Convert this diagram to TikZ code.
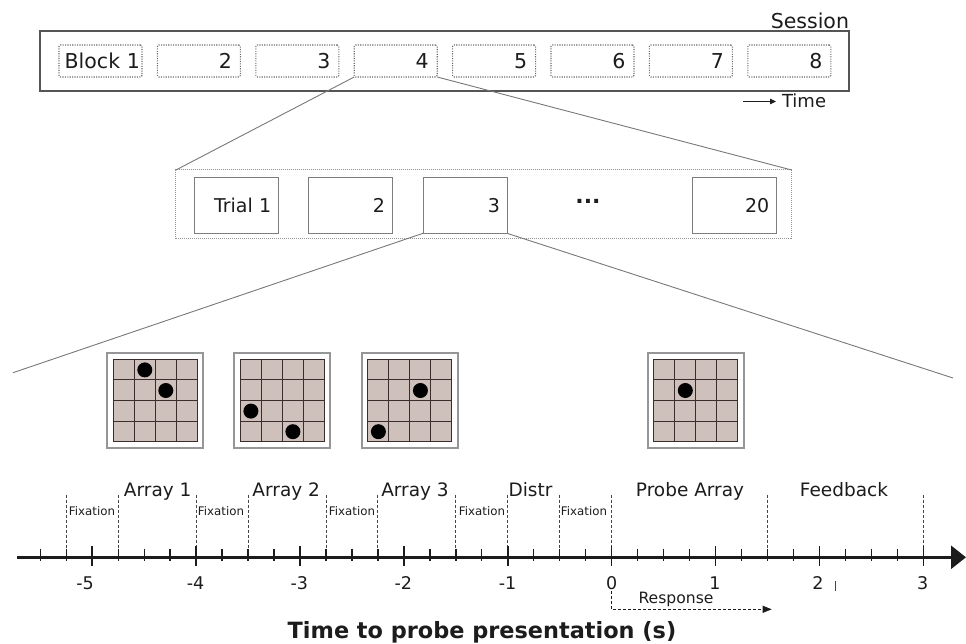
\documentclass[tikz,border=0pt]{standalone}
\usepackage{fontspec}
\setmainfont{DejaVu Sans}
\usetikzlibrary{arrows.meta}

\definecolor{inkc}{RGB}{28,28,28}
\definecolor{sessc}{RGB}{85,85,85}
\definecolor{blockc}{RGB}{105,105,105}
\definecolor{outerc}{RGB}{150,150,150}
\definecolor{trialc}{RGB}{125,125,125}
\definecolor{zoomc}{RGB}{120,120,120}
\definecolor{framec}{RGB}{150,150,150}
\definecolor{cellc}{RGB}{206,193,188}
\definecolor{gridc}{RGB}{60,45,45}
\definecolor{phasec}{RGB}{70,70,70}

\newcommand{\setfs}[1]{\fontsize{#1pt}{#1pt}\selectfont}

\tikzset{
  cells/.pic={
    \fill[cellc, rounded corners=1pt] (-42,-41.2) rectangle (42,41.2);
    \foreach \k in {0,...,4}{
      \draw[gridc, line width=1.1pt] (-42+21*\k,-41.2) -- (-42+21*\k,41.2);
      \draw[gridc, line width=1.1pt] (-42,-41.2+20.6*\k) -- (42,-41.2+20.6*\k);
    }
  }
}

\begin{document}
\begin{tikzpicture}[x=1pt, y=-1pt,
  every node/.style={inner sep=0pt, outer sep=0pt, text=inkc},
  blockbox/.style={draw=blockc, line width=1.1pt, dash pattern=on 1.1pt off 1.3pt,
    rounded corners=1.5pt, minimum width=83pt, minimum height=32pt,
    text width=66pt, inner xsep=8.5pt, align=right, font=\setfs{20.5}},
  trialbox/.style={draw=trialc, line width=1pt, minimum width=84pt, minimum height=56pt,
    text width=70pt, inner xsep=7pt, align=right, font=\setfs{19}},
  zoomline/.style={draw=zoomc, line width=0.9pt},
  arrframe/.style={draw=framec, line width=1.8pt, fill=white,
    minimum width=96pt, minimum height=94.4pt},
  stimdot/.style={fill=black},
  phase/.style={draw=phasec, line width=0.9pt, dash pattern=on 3pt off 2pt},
  phaselbl/.style={anchor=base, font=\setfs{18.5}},
  fixlbl/.style={anchor=base, font=\setfs{11.8}},
  numlbl/.style={anchor=base, font=\setfs{17.5}},
  minortick/.style={draw=inkc, line width=1.3pt},
  majortick/.style={draw=inkc, line width=1.5pt}
]
\useasboundingbox (0,0) rectangle (966,644);

% ---------- session with its eight blocks ----------
\node[draw=sessc, line width=1.6pt, minimum width=809pt, minimum height=60pt] (session) at (444.5,61) {};
\node[anchor=base east, font=\setfs{20.5}] (sesslbl) at (849,28.3) {Session};
\node[blockbox, text width=79pt, inner xsep=2pt] (b1) at (100.5,61) {Block 1};
\node[blockbox] (b2) at (198.9,61) {2};
\node[blockbox] (b3) at (297.3,61) {3};
\node[blockbox] (b4) at (395.7,61) {4};
\node[blockbox] (b5) at (494.1,61) {5};
\node[blockbox] (b6) at (592.5,61) {6};
\node[blockbox] (b7) at (690.9,61) {7};
\node[blockbox] (b8) at (789.3,61) {8};

\coordinate (tm0) at (743,101.5);
\node[anchor=base west, font=\setfs{18}] (timelbl) at (782,108) {Time};
\draw[inkc, line width=0.8pt, -{Triangle[length=6pt,width=5.5pt]}, shorten >=6pt] (tm0) -- (tm0 -| timelbl.west);

% ---------- trials of one block ----------
\node[draw=outerc, line width=1pt, dash pattern=on 1pt off 1pt, minimum width=615.7pt, minimum height=69pt] (trials) at (483.8,204.5) {};
\node[trialbox] (t1) at (236.3,205.3) {Trial 1};
\node[trialbox] (t2) at (350,205.3) {2};
\node[trialbox] (t3) at (465,205.3) {3};
\node[trialbox] (t20) at (734.3,205.3) {20};
\node[anchor=base, font=\bfseries\setfs{22}] (dots) at (588,204) {...};

\draw[zoomline] (b4.south west) -- (trials.north west);
\draw[zoomline] (b4.south east) -- (trials.north east);

\coordinate (zl) at (13,372.7);
\coordinate (zr) at (953,378);
\draw[zoomline] (t3.south west) -- (zl);
\draw[zoomline] (t3.south east) -- (zr);

% ---------- stimulus arrays ----------
\node[arrframe] (a1) at (155.3,400.5) {};
\node[arrframe] (a2) at (282.2,400.5) {};
\node[arrframe] (a3) at (409.7,400.5) {};
\node[arrframe] (a4) at (695.9,400.5) {};
\pic at (a1.center) {cells};
\pic at (a2.center) {cells};
\pic at (a3.center) {cells};
\pic at (a4.center) {cells};

\fill[stimdot] (144.8,369.9) circle[radius=7.5pt];
\fill[stimdot] (165.8,390.5) circle[radius=7.5pt];
\fill[stimdot] (250.9,411.1) circle[radius=7.5pt];
\fill[stimdot] (292.9,431.7) circle[radius=7.5pt];
\fill[stimdot] (420.4,390.5) circle[radius=7.5pt];
\fill[stimdot] (378.4,431.7) circle[radius=7.5pt];
\fill[stimdot] (685.3,390.5) circle[radius=7.5pt];

% ---------- time line ----------
\foreach \t in {-5.25,-4.75,-4,-3.5,-2.75,-2.25,-1.5,-1,-0.5,0,1.5,3}{
  \draw[phase] ({611.7+103.9*\t},494.5) -- ({611.7+103.9*\t},557);
}
\foreach \t in {-5.5,-5.25,...,3}{
  \draw[minortick] ({611.7+103.9*\t},548.5) -- ({611.7+103.9*\t},561);
}
\foreach \t in {-5,...,3}{
  \draw[majortick] ({611.7+103.9*\t},546) -- ({611.7+103.9*\t},566);
}
\coordinate (ax0) at (17.3,557.3);
\coordinate (ax1) at (966,557.3);
\draw[inkc, line width=2.6pt, -{Triangle[length=15pt,width=23pt]}] (ax0) -- (ax1);

\node[phaselbl] (ph1) at (157.7,496.5) {Array 1};
\node[phaselbl] (ph2) at (286.2,496.5) {Array 2};
\node[phaselbl] (ph3) at (415,496.5) {Array 3};
\node[phaselbl] (ph4) at (530.5,496.5) {Distr};
\node[phaselbl] (ph5) at (690,496.5) {Probe Array};
\node[phaselbl] (ph6) at (844,496.5) {Feedback};

\node[fixlbl] (fx1) at (92,515) {Fixation};
\node[fixlbl] (fx2) at (221,515) {Fixation};
\node[fixlbl] (fx3) at (352,515) {Fixation};
\node[fixlbl] (fx4) at (482,515) {Fixation};
\node[fixlbl] (fx5) at (584,515) {Fixation};

\node[numlbl] (n5) at (85,589.3) {-5};
\node[numlbl] (n4) at (195.5,589.3) {-4};
\node[numlbl] (n3) at (299.3,589.3) {-3};
\node[numlbl] (n2) at (403.3,589.3) {-2};
\node[numlbl] (n1) at (507.5,589.3) {-1};
\node[numlbl] (p0) at (611.7,589.3) {0};
\node[numlbl] (p1) at (715,589.3) {1};
\node[numlbl] (p2) at (818,589.3) {2};
\node[numlbl] (p3) at (922.7,589.3) {3};
\draw[phasec, line width=0.9pt] (835.7,581) -- (835.7,590.5);

% ---------- response window ----------
\coordinate (r0) at (611.7,591);
\coordinate (r1) at (771.7,609.3);
\draw[inkc, line width=0.9pt, dash pattern=on 3pt off 2pt, -{Triangle[length=9pt,width=7pt]}] (r0) |- (r1);
\node[anchor=base, font=\setfs{15.6}] (resp) at (676,603.3) {Response};

\node[anchor=base, font=\bfseries\setfs{22.4}] (title) at (482,638.3) {Time to probe presentation (s)};
\end{tikzpicture}
\end{document}
